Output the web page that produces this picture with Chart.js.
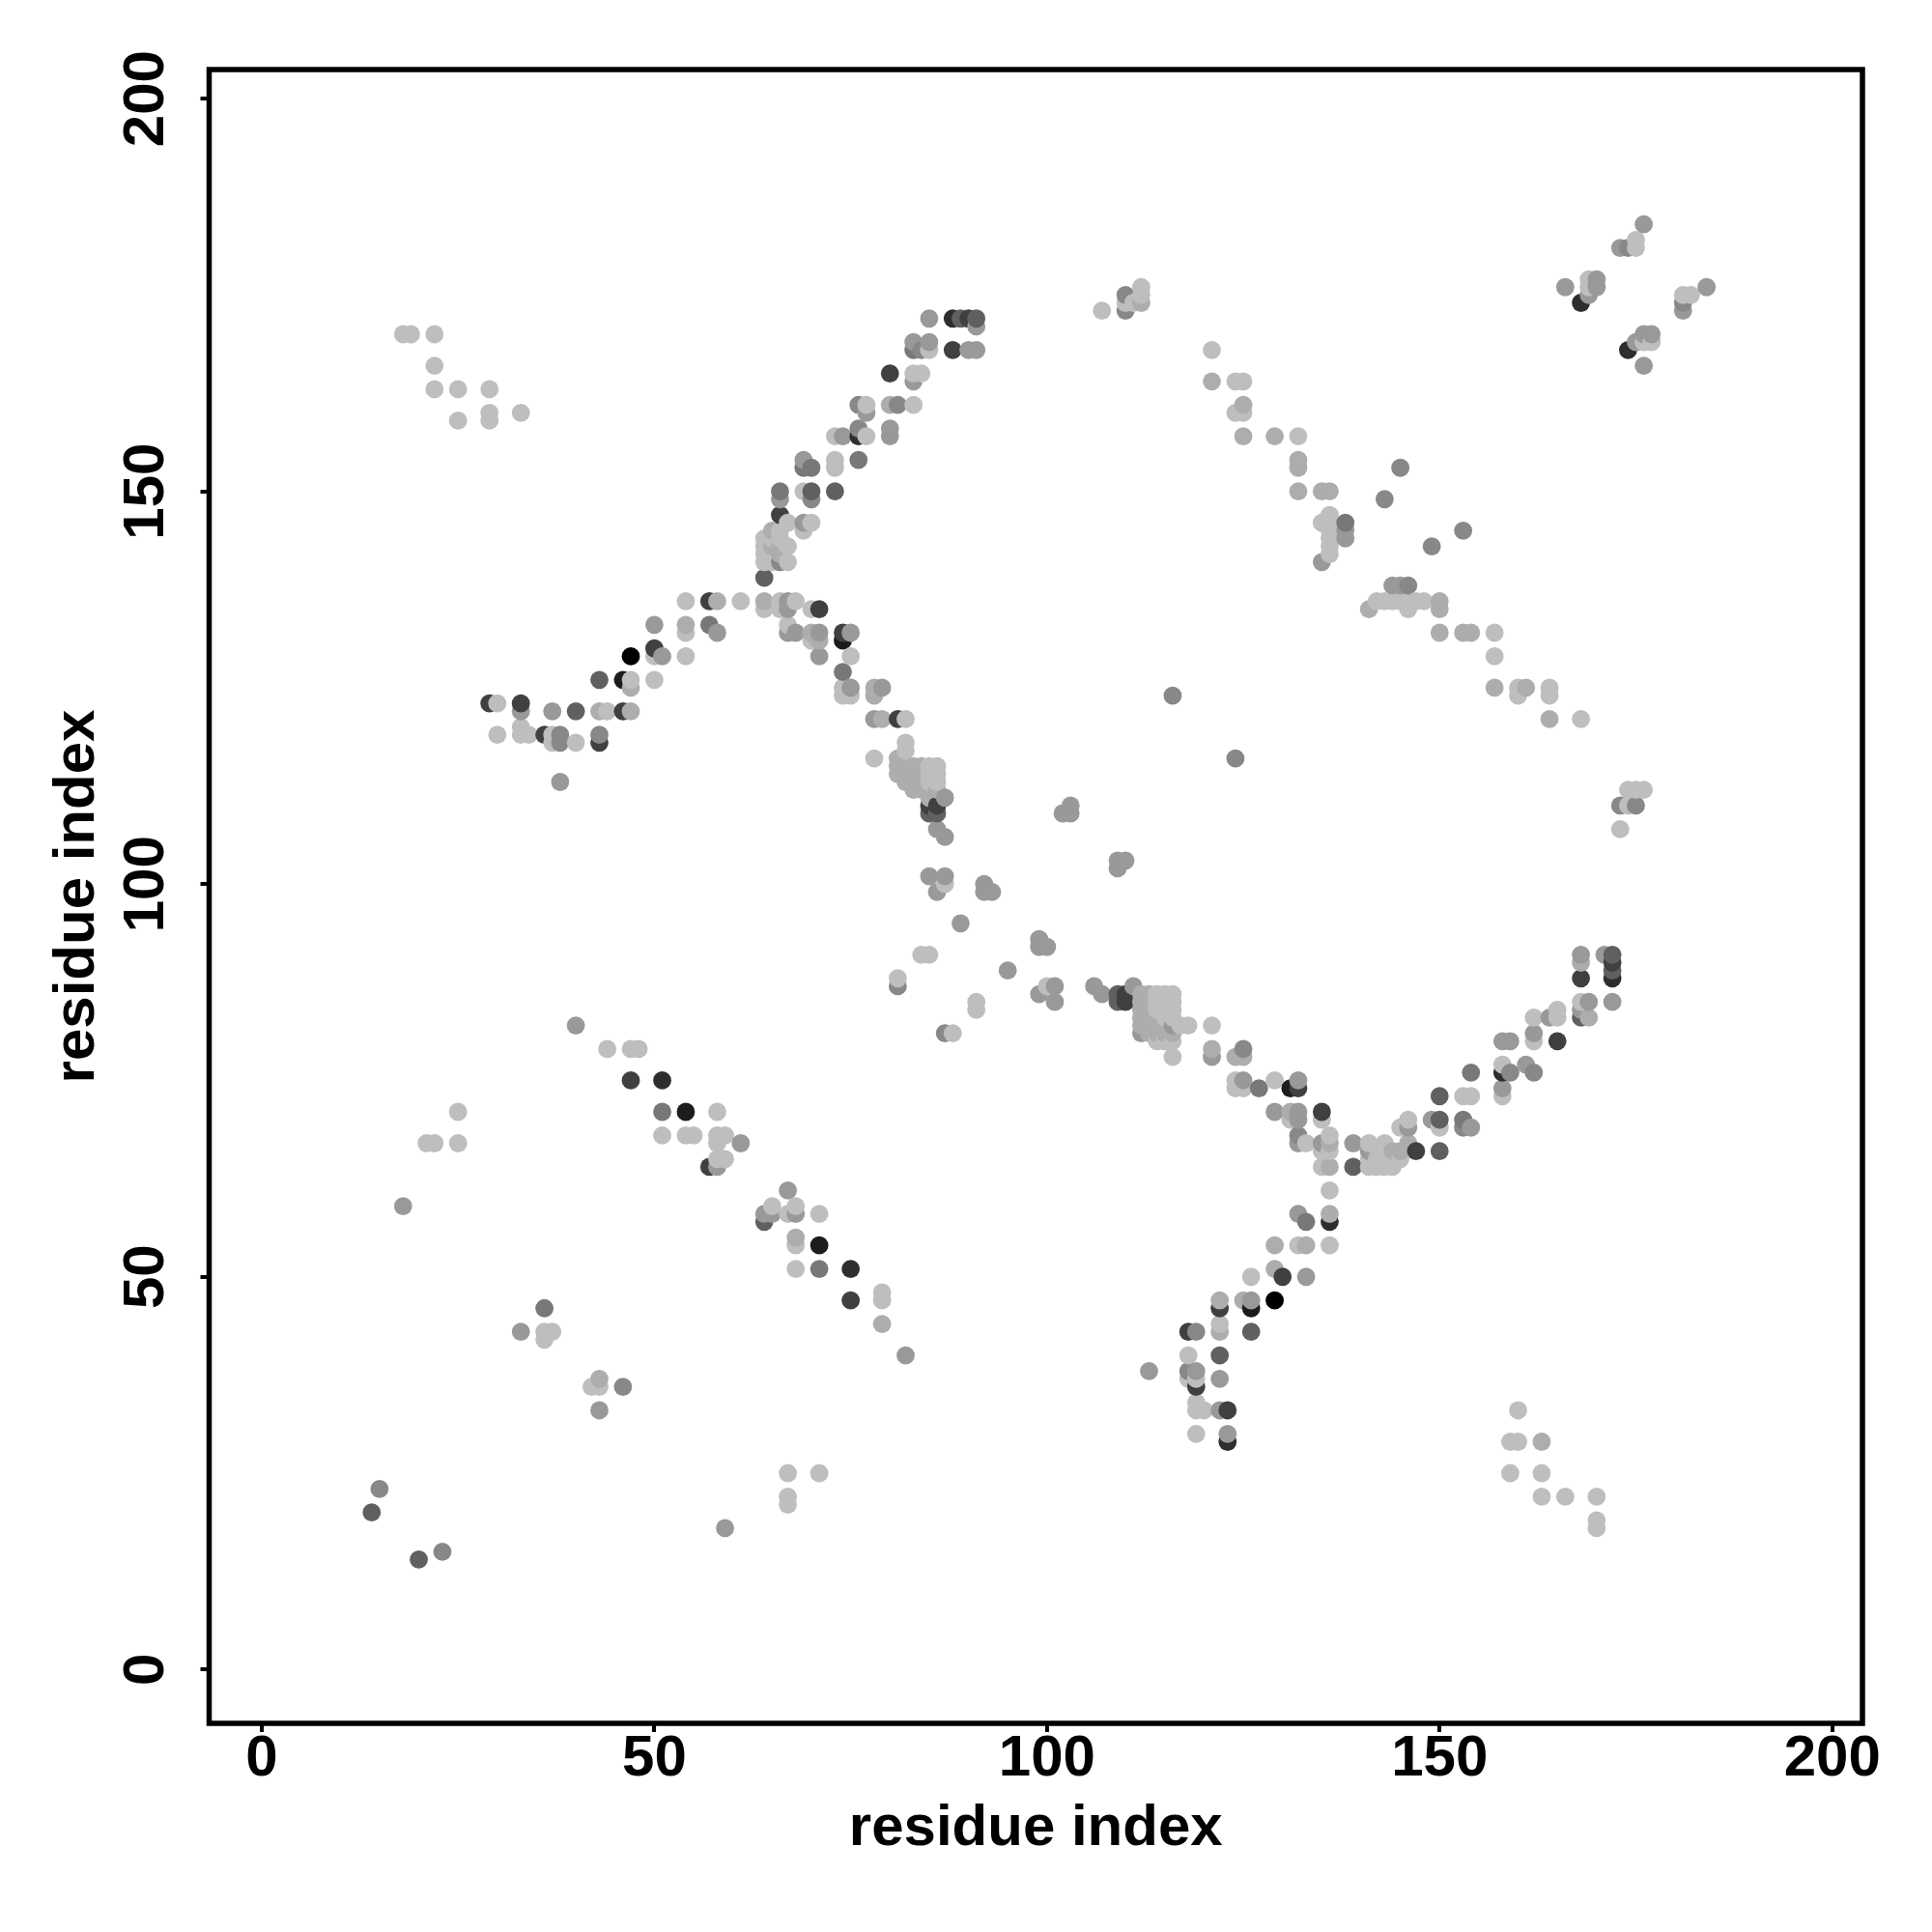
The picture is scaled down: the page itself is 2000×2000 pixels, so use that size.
<!DOCTYPE html>
<html>
<head>
<meta charset="utf-8">
<title>residue contact map</title>
<script src="https://cdn.jsdelivr.net/npm/chart.js@4"></script>
<style>
  html, body { margin: 0; padding: 0; background: #fff; }
  canvas { display: block; }
</style>
</head>
<body>
<canvas id="chart" width="2000" height="2000"></canvas>
<script>
// [residue x, residue y] grouped by how dark the dot is in the picture
const contactsBlack = [[47,129],[129,47]];
const contacts1C = [[46,126],[54,71],[71,54],[74,131],[126,46],[131,74]];
const contacts2E = [[51,75],[75,51],[76,157],[88,172],[123,29],[136,57],[158,76],[168,174],[172,88],[174,168]];
const contacts40 = [[29,123],[33,123],[36,119],[43,118],[46,122],[47,75],[50,130],[57,136],[57,64],[66,147],[71,135],
  [74,132],[75,47],[80,165],[81,121],[85,110],[86,110],[88,168],[90,172],[110,86],[110,85],[118,43],[119,36],[122,46],[123,33],
  [130,50],[132,74],[135,71],[147,66],[165,80],[168,88],[172,90]];
const contacts60 = [[14,20],[20,14],[40,122],[43,126],[64,57],[64,139],[70,150],[73,150],[85,109],[86,109],[89,172],[91,172],
  [109,86],[109,85],[122,40],[126,43],[139,64],[150,70],[150,73],[150,66],[168,83],[172,91],[172,89]];
const contacts78 = [[36,46],[51,71],[57,133],[66,150],[69,153],[70,153],[74,127],[83,168],[127,74],[133,57],[138,146],
  [153,70],[76,154],[154,76],[71,51]];
const contacts88 = [[15,23],[23,15],[38,119],[38,118],[43,119],[46,36],[66,141],[70,149],[76,161],[76,158],[81,161],[81,87],
  [84,168],[87,81],[110,173],[110,175],[116,124],[119,43],[124,116],[143,149],[145,153],[146,138],[149,143],[153,145],[132,68],[125,79],
  [159,76],[162,76],[153,69],[175,110],[173,110],[118,38],[174,181],[181,174]];
const contacts99 = [[18,59],[33,122],[33,43],[37,122],[38,113],[40,82],[43,33],[50,133],[51,129],[58,132],[58,64],[59,18],[61,67],
  [64,58],[65,58],[67,61],[66,149],[67,136],[67,135],[67,132],[68,132],[68,58],[69,154],[69,146],[71,132],[71,129],[75,132],
  [75,125],[78,121],[79,125],[85,101],[87,101],[86,99],[86,107],[87,106],[87,111],[89,95],[82,40],[85,172],[91,171],[90,168],
  [91,168],[83,169],[85,169],[83,164],[77,160],[80,158],[80,157],[74,157],[92,100],[92,99],[93,99],[95,89],[99,93],[99,92],
  [100,92],[99,86],[101,87],[101,85],[102,109],[103,110],[103,109],[106,87],[107,86],[109,103],[109,102],[110,103],[111,87],
  [113,38],[119,38],[122,37],[122,33],[123,30],[125,75],[129,71],[132,71],[132,70],[132,67],[132,75],[132,58],[135,67],[139,67],[133,50],[126,47],
  [141,66],[146,69],[149,70],[154,69],[158,74],[158,80],[159,80],[161,77],[168,91],[168,84],[169,85],[171,91],[172,85],[162,81],
  [164,83],[166,176],[170,177],[170,176],[169,175],[176,184],[173,181],[181,173],[184,176],[176,170],[175,169],[176,166],
  [177,170],[135,141],[138,145],[138,144],[144,138],[145,138],[121,78],[112,81],[116,82]];
const contactsAD = [[43,122],[47,125],[47,122],[54,133],[58,136],[64,136],[68,55],[70,132],[71,131],[78,125],[78,124],[79,121],
  [80,161],[81,116],[81,115],[81,114],[82,114],[82,113],[83,115],[83,114],[83,113],[83,112],[84,115],[84,114],[84,113],[84,112],[85,112],[85,111],[86,112],[65,145],
  [65,143],[66,143],[66,142],[112,86],[112,85],[112,84],[112,83],[112,82],[113,86],[113,85],[113,84],[113,83],[113,82],[113,81],[114,83],
  [114,82],[114,81],[115,81],[115,82],[116,81],[122,47],[125,47],[122,43],[129,54],[133,54],[129,51],[136,64],[136,58],[136,67],
  [121,79],[124,78],[125,78],[131,71],[144,66],[145,66],[121,164],[125,161],[125,157],[129,157],[132,154],[132,153],[132,150],
  [135,150],[136,150],[150,136],[150,135],[150,132],[153,132],[154,132],[157,125],[161,125],[164,121],[169,83],[168,90],[163,29],
  [43,37],[79,44],[112,174],[146,67],[141,135]];
const contactsBE = [[18,170],[19,170],[22,170],[22,166],[22,163],[25,163],[29,163],[29,160],[25,159],[29,159],[33,160],[30,123],[30,119],
  [33,120],[33,119],[34,119],[37,119],[37,118],[40,118],[21,67],[22,67],[25,71],[25,67],[36,43],[37,43],[36,42],[42,36],[43,36],
  [44,79],[47,79],[48,79],[44,122],[47,126],[50,129],[50,126],[54,132],[54,129],[54,136],[51,68],[54,68],[55,68],[58,71],[58,68],
  [59,68],[58,67],[58,65],[59,65],[61,136],[64,135],[64,144],[64,143],[64,142],[64,141],[65,144],[65,142],[65,141],[66,145],[66,144],
  [67,146],[67,143],[67,141],[65,59],[66,136],[66,135],[67,133],[67,25],[67,22],[67,21],[71,25],[68,136],[68,59],[68,54],
  [68,51],[71,58],[67,58],[69,150],[69,145],[70,146],[70,135],[70,131],[73,157],[73,154],[73,153],[74,125],
  [74,124],[75,124],[75,129],[77,161],[77,157],[78,116],[79,48],[79,47],[81,88],[82,121],[82,118],[82,117],
  [85,115],[85,114],[85,113],[86,115],[86,114],[86,113],[83,161],[83,165],[84,165],[85,168],[84,91],[85,91],[87,100],
  [88,81],[91,85],[91,84],[100,87],[107,173],[110,174],[111,174],[112,176],[112,175],[114,86],[115,86],[116,86],[114,85],
  [115,85],[116,85],[114,84],[115,84],[116,84],[115,83],[116,83],[114,80],[115,80],[116,80],[117,82],[118,82],[116,78],[118,40],[118,37],
  [119,37],[119,34],[119,33],[120,33],[119,30],[121,82],[121,168],[122,44],[124,164],[125,164],[124,160],[125,160],[124,75],
  [124,74],[125,74],[126,50],[129,75],[131,70],[132,54],[132,157],[135,70],[133,67],[135,66],[136,68],[136,66],[135,64],[136,61],[136,54],[136,147],
  [136,146],[136,145],[136,144],[136,143],[136,142],[135,146],[141,67],[141,65],[141,64],[142,65],[142,64],[143,67],[143,66],[143,65],
  [143,64],[144,65],[144,64],[145,65],[145,69],[146,70],[142,136],[143,136],[144,136],[145,136],[146,136],[147,136],[148,136],[146,135],
  [150,69],[153,73],[154,73],[157,132],[157,129],[158,77],[158,73],[159,29],[160,33],[160,29],[159,25],[163,25],[163,22],[166,22],[170,22],
  [170,19],[170,18],[160,125],[160,124],[164,125],[164,124],[168,121],[162,83],[162,80],[165,84],[165,83],[168,85],[173,107],[174,112],
  [174,110],[175,112],[176,112],[175,182],[175,181],[169,177],[169,176],[176,169],[177,169],[181,175],[182,175]];

const tickValues = [0, 50, 100, 150, 200];
const axisTitle = 'residue index';

const SHADE_GROUPS = [
  [contactsBlack, '#000000'], [contacts1C, '#1c1c1c'], [contacts2E, '#2e2e2e'], [contacts40, '#404040'],
  [contacts60, '#606060'], [contacts78, '#787878'], [contacts88, '#888888'], [contacts99, '#999999'],
  [contactsAD, '#adadad'], [contactsBE, '#bebebe']
];
const FONT = '"Liberation Sans", Arial, sans-serif';

// the original is plotted sorted by x then y, so overlaps come out in that order
const points = [];
SHADE_GROUPS.forEach(([list, color]) => list.forEach(([x, y]) => points.push({ x, y, color })));
points.sort((a, b) => a.x - b.x || a.y - b.y);

const framePlugin = {
  id: 'frame',
  afterDraw(chart) {
    const { ctx, chartArea: a, scales } = chart;
    ctx.save();
    ctx.strokeStyle = '#000';
    ctx.lineWidth = 5.5;
    ctx.strokeRect(a.left, a.top, a.right - a.left, a.bottom - a.top);
    // y labels read bottom to top and are centred on their tick
    ctx.fillStyle = '#000';
    ctx.font = 'bold 60px ' + FONT;
    ctx.textAlign = 'center';
    ctx.textBaseline = 'alphabetic';
    scales.y.ticks.forEach(t => {
      ctx.save();
      ctx.translate(169, scales.y.getPixelForValue(t.value));
      ctx.rotate(-Math.PI / 2);
      ctx.fillText(String(t.value), 0, 0);
      ctx.restore();
    });
    ctx.restore();
  }
};

new Chart(document.getElementById('chart'), {
  type: 'scatter',
  plugins: [framePlugin],
  data: {
    datasets: [{
      data: points,
      showLine: false,
      pointRadius: 9.4,
      pointBorderWidth: 0,
      pointBackgroundColor: points.map(p => p.color)
    }]
  },
  options: {
    responsive: false,
    animation: false,
    layout: { padding: { top: 72, right: 72, bottom: 0, left: 0 } },
    plugins: { legend: { display: false }, tooltip: { enabled: false } },
    scales: {
      x: {
        type: 'linear',
        min: -6.7,
        max: 203.85,
        afterBuildTicks: s => { s.ticks = tickValues.map(value => ({ value })); },
        afterFit: s => { s.height = 216; },
        border: { display: false },
        grid: { drawOnChartArea: false, color: '#000', lineWidth: 4, tickLength: 9 },
        ticks: {
          color: '#000', padding: -2, maxRotation: 0, autoSkip: false,
          font: { family: FONT, size: 60, weight: 'bold', lineHeight: 1 },
          callback: v => String(v)
        },
        title: {
          display: true, text: axisTitle, color: '#000',
          padding: { top: 0, bottom: 77 },
          font: { family: FONT, size: 60, weight: 'bold', lineHeight: 1 }
        }
      },
      y: {
        type: 'linear',
        min: -6.85,
        max: 203.7,
        afterBuildTicks: s => { s.ticks = tickValues.map(value => ({ value })); },
        afterFit: s => { s.width = 216.5; },
        border: { display: false },
        grid: { drawOnChartArea: false, color: '#000', lineWidth: 4, tickLength: 9 },
        ticks: { display: false },
        title: {
          display: true, text: axisTitle, color: '#000',
          padding: { top: 50, bottom: 0 },
          font: { family: FONT, size: 60, weight: 'bold', lineHeight: 1 }
        }
      }
    }
  }
});
</script>
</body>
</html>
